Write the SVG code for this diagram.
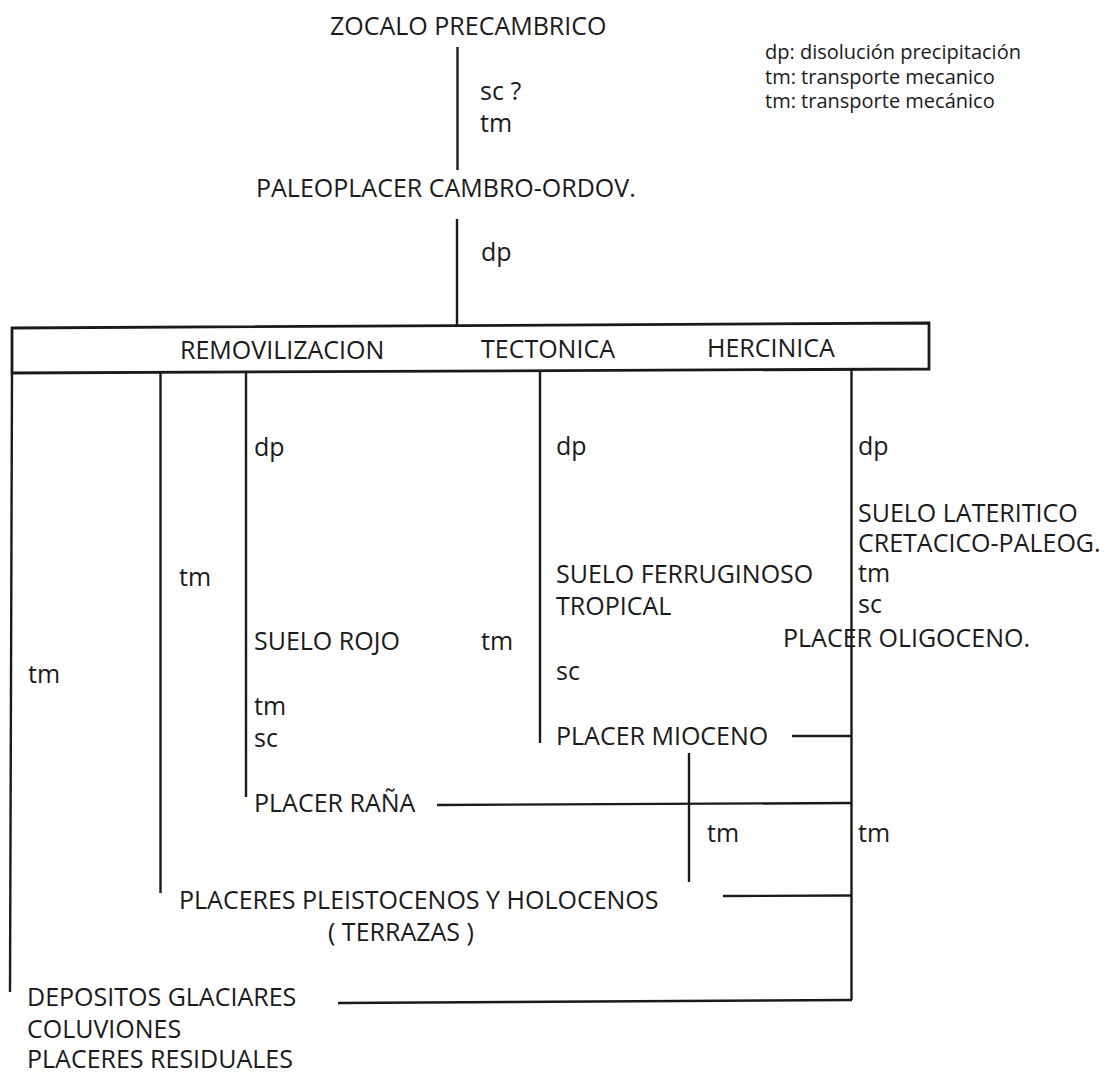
<svg xmlns="http://www.w3.org/2000/svg" width="1111" height="1074" viewBox="0 0 1111 1074">
<style>
text{font-family:"Open Sans","Noto Sans","DejaVu Sans",sans-serif;font-size:25px;fill:#1a1a1a}
.leg text{font-size:20px}
.ln{stroke:#1a1a1a;stroke-width:2.4;fill:none;stroke-linecap:butt}
.box{stroke:#1a1a1a;stroke-width:2.8;fill:#fff}
</style>
<rect width="1111" height="1074" fill="#fff"/>
<g id="legend" class="leg">
<text x="765" y="59">dp: disolución precipitación</text>
<text x="765" y="84">tm: transporte mecanico</text>
<text x="765" y="108">tm: transporte mecánico</text>
</g>
<g id="zocalo"><text x="330" y="35">ZOCALO PRECAMBRICO</text></g>
<g id="paleoplacer"><text x="256" y="197">PALEOPLACER CAMBRO-ORDOV.</text></g>
<g id="removilizacion">
<path class="box" d="M12,328 L929,323 L929,369 L12,373 Z"/>
<text x="180" y="359">REMOVILIZACION</text>
<text x="481" y="358">TECTONICA</text>
<text x="707" y="357">HERCINICA</text>
</g>
<g id="suelo-rojo"><text x="254" y="650">SUELO ROJO</text></g>
<g id="placer-rana"><text x="254" y="812">PLACER RAÑA</text></g>
<g id="suelo-ferruginoso"><text x="556" y="583">SUELO FERRUGINOSO</text><text x="556" y="615">TROPICAL</text></g>
<g id="placer-mioceno"><text x="556" y="745">PLACER MIOCENO</text></g>
<g id="suelo-lateritico"><text x="858" y="522">SUELO LATERITICO</text><text x="858" y="552">CRETACICO-PALEOG.</text></g>
<g id="placer-oligoceno"><text x="783" y="647">PLACER OLIGOCENO.</text></g>
<g id="placeres-pleistocenos"><text x="179" y="909">PLACERES PLEISTOCENOS Y HOLOCENOS</text><text x="328" y="941">( TERRAZAS )</text></g>
<g id="depositos"><text x="27" y="1006">DEPOSITOS GLACIARES</text><text x="27" y="1038">COLUVIONES</text><text x="27" y="1068">PLACERES RESIDUALES</text></g>
<g id="connectors">
<line class="ln" x1="457.5" y1="47" x2="457.5" y2="170"/>
<line class="ln" x1="457" y1="219" x2="457" y2="325"/>
<line class="ln" x1="12" y1="373" x2="10" y2="992"/>
<line class="ln" x1="160.5" y1="372" x2="160.5" y2="893"/>
<line class="ln" x1="246" y1="371" x2="246" y2="797"/>
<line class="ln" x1="540" y1="370" x2="540" y2="743"/>
<line class="ln" x1="851.5" y1="369" x2="851.5" y2="1000"/>
<line class="ln" x1="689" y1="753" x2="689" y2="882"/>
<line class="ln" x1="792" y1="736" x2="852" y2="736"/>
<line class="ln" x1="437" y1="805" x2="852" y2="803"/>
<line class="ln" x1="723" y1="896" x2="852" y2="895.5"/>
<line class="ln" x1="338" y1="1003" x2="852" y2="1000"/>
<g id="labels">
<text x="480" y="100">sc ?</text>
<text x="480" y="132">tm</text>
<text x="481" y="261">dp</text>
<text x="254" y="456">dp</text>
<text x="556" y="455">dp</text>
<text x="858" y="455">dp</text>
<text x="179" y="586">tm</text>
<text x="28" y="683">tm</text>
<text x="481" y="650">tm</text>
<text x="254" y="715">tm</text>
<text x="254" y="747">sc</text>
<text x="556" y="680">sc</text>
<text x="858" y="582">tm</text>
<text x="858" y="613">sc</text>
<text x="707" y="842">tm</text>
<text x="858" y="842">tm</text>
</g>
</g>
</svg>
